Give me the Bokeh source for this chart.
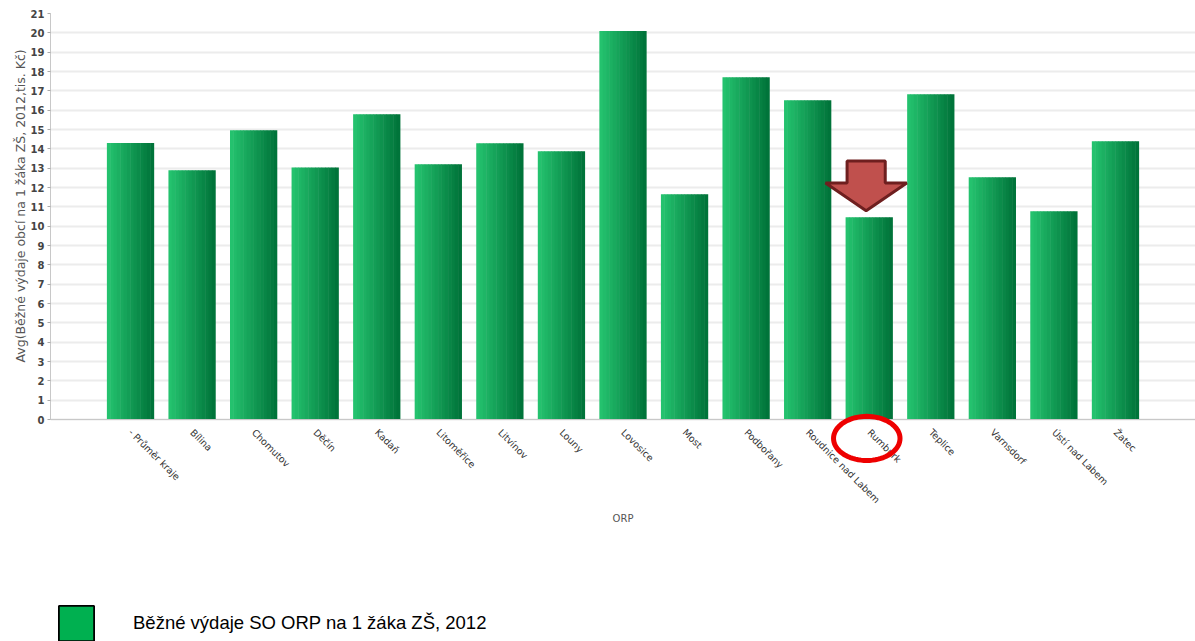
import math
from bokeh.plotting import figure
from bokeh.models import (ColumnDataSource, FactorRange, Range1d, Legend, LegendItem,
                          PolyAnnotation, FixedTicker, Title)
from bokeh.transform import dodge
from bokeh.embed import file_html
from bokeh.resources import INLINE

# ---- data ----
categories = ["- Průměr kraje", "Bílina", "Chomutov", "Děčín", "Kadaň", "Litoměřice",
              "Litvínov", "Louny", "Lovosice", "Most", "Podbořany", "Roudnice nad Labem",
              "Rumburk", "Teplice", "Varnsdorf", "Ústí nad Labem", "Žatec"]
values = [14.31, 12.9, 14.97, 13.04, 15.79, 13.21, 14.29, 13.88, 20.09, 11.65,
          17.7, 16.52, 10.46, 16.83, 12.53, 10.78, 14.4]
y_ticks = list(range(0, 22))
series_name = "Běžné výdaje SO ORP na 1 žáka ZŠ, 2012"
y_title = "Avg(Běžné výdaje obcí na 1 žáka ZŠ, 2012,tis. Kč)"
x_title = "ORP"
highlight = "Rumburk"

src = ColumnDataSource(dict(cat=categories, val=values))

# the frame reaches the bottom of the figure so that the legend and the
# highlight ring below the axis are not clipped; the x axis sits at y = 0
p = figure(width=1195, height=641, output_backend="svg", toolbar_location=None,
           x_range=FactorRange(*categories, range_padding=0.8, range_padding_units="absolute"),
           y_range=Range1d(-11.47, 21),
           min_border_left=50, min_border_right=0, min_border_top=13, min_border_bottom=0)
p.outline_line_color = None
p.background_fill_color = "white"
p.border_fill_color = "white"

# legend-only renderer (hidden in the plot)
dummy = p.vbar(x="cat", top="val", source=src, width=0.5, fill_color="#00b050",
               line_color="black", line_width=1.8, visible=False)

# bars with horizontal gradient (strips)
W = 0.76
n = 14
c0 = (36, 194, 110)
c1 = (0, 116, 58)
for k in range(n):
    t = k / (n - 1)
    col = "#%02x%02x%02x" % tuple(int(round(a + (b - a) * t)) for a, b in zip(c0, c1))
    off = -W / 2 + (k + 0.5) * W / n
    p.vbar(x=dodge("cat", off, range=p.x_range), top="val", width=W / n * 1.15,
           source=src, fill_color=col, line_color=None)

legend = Legend(items=[LegendItem(label=series_name, renderers=[dummy])],
                location=(4, -4), glyph_width=44, glyph_height=44, label_standoff=35,
                label_text_font="Liberation Sans", label_text_font_size="18.5px",
                label_text_color="black", border_line_color=None,
                background_fill_alpha=0, padding=0, margin=0, spacing=0)
p.add_layout(legend)

# arrow over highlighted bar
hi = categories.index(highlight)
hv = values[hi]
cx = hi + 0.5 - 0.05
ax = [cx - 0.31, cx + 0.31, cx + 0.31, cx + 0.66, cx, cx - 0.66, cx - 0.31]
ay = [hv + 2.92, hv + 2.92, hv + 1.78, hv + 1.78, hv + 0.34, hv + 1.78, hv + 1.78]
p.patch(ax, ay, fill_color="#c0504d", line_color="#6e1f1f", line_width=3)

# red ellipse around highlighted label
ex, ey = hi + 0.5 - 0.04, -0.97
rx, ry = 0.54, 1.14
pts = range(72)
ring = PolyAnnotation(xs=[ex + rx * math.cos(2 * math.pi * i / 72) for i in pts],
                      ys=[ey + ry * math.sin(2 * math.pi * i / 72) for i in pts],
                      fill_alpha=0, line_color="#ee0000", line_alpha=1.0, line_width=5)
p.add_layout(ring)

# axes
p.yaxis.ticker = FixedTicker(ticks=y_ticks)
p.yaxis.bounds = (0, 21)
p.yaxis.minor_tick_line_color = None
p.yaxis.major_tick_out = 3
p.yaxis.major_tick_in = 0
p.yaxis.major_tick_line_color = "#aaaaaa"
p.yaxis.axis_line_color = "#c8c8c8"
p.yaxis.major_label_text_font = "DejaVu Sans"
p.yaxis.major_label_text_font_style = "bold"
p.yaxis.major_label_text_font_size = "10px"
p.yaxis.major_label_text_color = "#444444"
p.yaxis.major_label_standoff = 3

# y axis title, placed along the 0..21 part of the axis
ytitle = Title(text=y_title, align="left", offset=279, text_font="DejaVu Sans",
               text_font_style="normal", text_font_size="12.5px", text_color="#555555",
               standoff=0)
p.add_layout(ytitle, "left")

p.xaxis.fixed_location = 0
p.xaxis.major_tick_line_color = None
p.xaxis.minor_tick_line_color = None
p.xaxis.axis_line_color = "#c8c8c8"
p.xaxis.major_label_orientation = -math.pi / 4
p.xaxis.major_label_text_font = "DejaVu Sans"
p.xaxis.major_label_text_font_size = "9.5px"
p.xaxis.major_label_text_color = "#333333"
p.xaxis.major_label_standoff = 5
p.xaxis.axis_label = x_title
p.xaxis.axis_label_text_font = "DejaVu Sans"
p.xaxis.axis_label_text_font_style = "normal"
p.xaxis.axis_label_text_font_size = "10px"
p.xaxis.axis_label_text_color = "#555555"
p.xaxis.axis_label_standoff = 1

p.xgrid.grid_line_color = None
p.ygrid.ticker = FixedTicker(ticks=y_ticks)
p.ygrid.grid_line_color = "#ececec"
p.ygrid.grid_line_width = 2

open("out.html", "w").write(file_html(p, INLINE))
